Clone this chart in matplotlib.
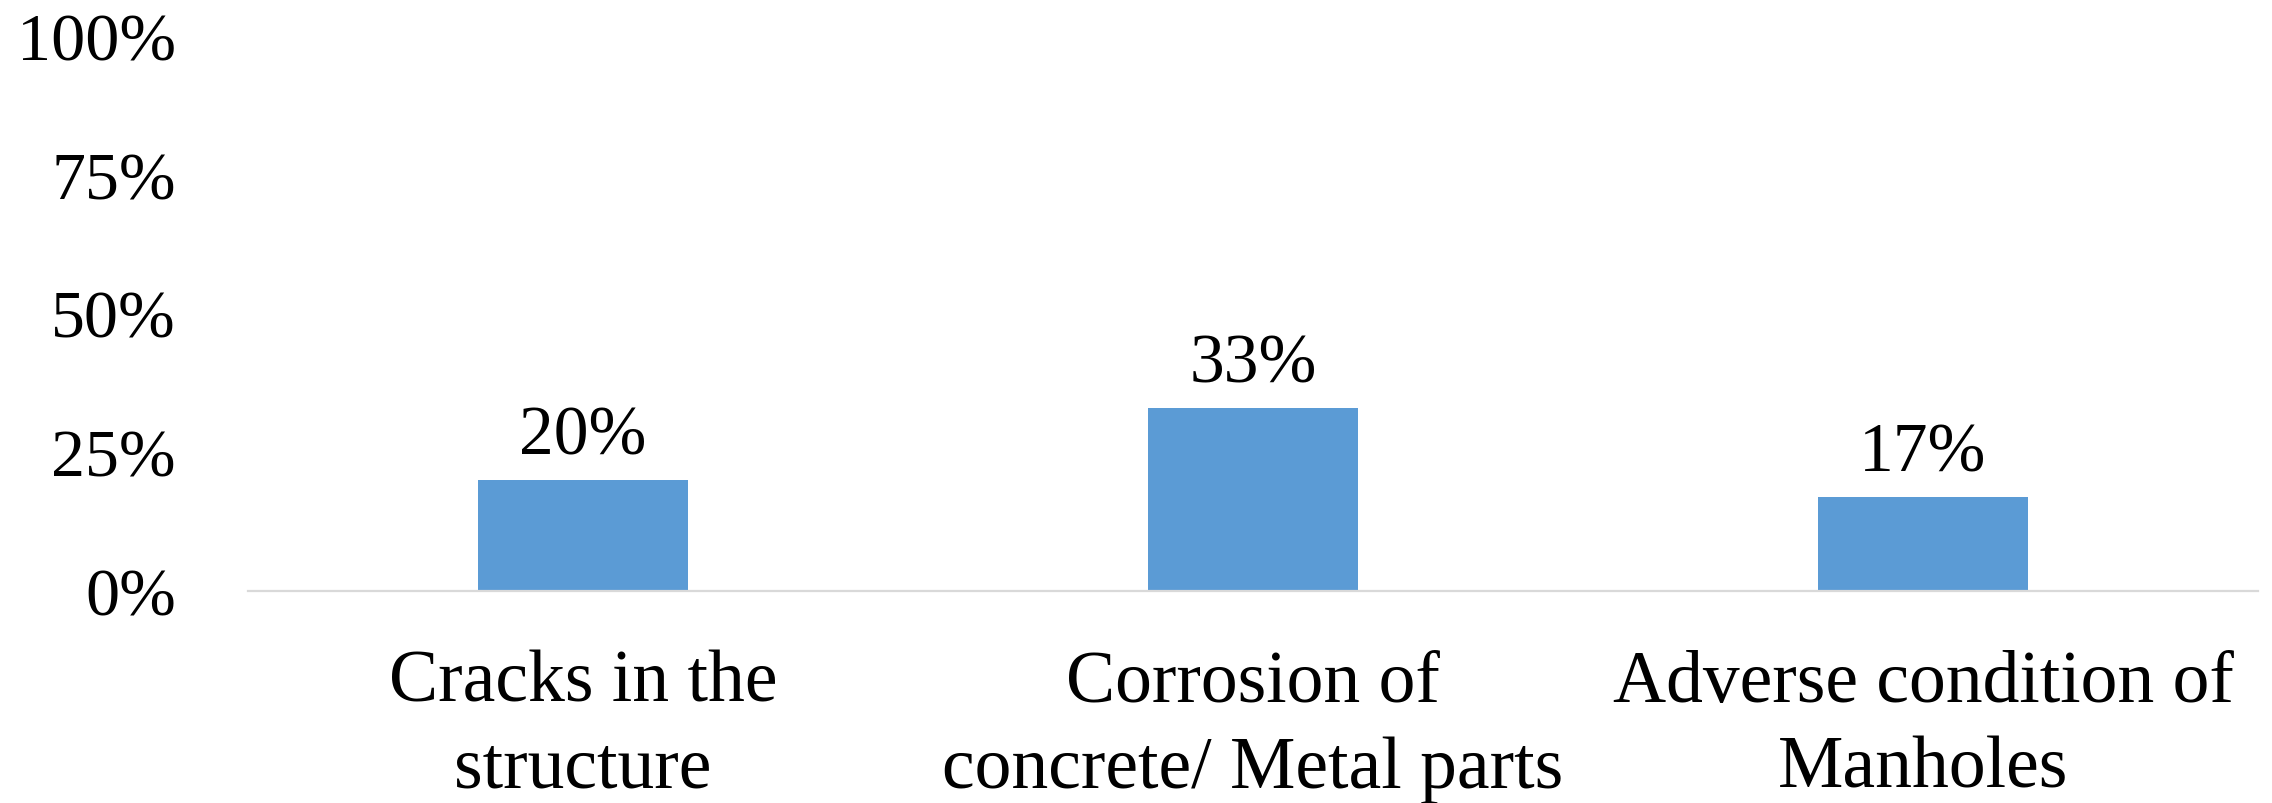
import matplotlib
matplotlib.use("Agg")
import matplotlib.pyplot as plt
from matplotlib.ticker import FuncFormatter

categories = ["Cracks in the\nstructure",
              "Corrosion of\nconcrete/ Metal parts",
              "Adverse condition of\nManholes"]
values = [0.20, 0.33, 0.17]
y_ticks = [0, 0.25, 0.50, 0.75, 1.00]

plt.rcParams["font.family"] = ["Liberation Serif", "DejaVu Serif"]

fig = plt.figure(figsize=(22.72, 8.04), dpi=100)
ax = fig.add_axes([0.1092, 0.2637, 0.8846, 0.6903])

x = range(len(categories))
bars = ax.bar(x, values, width=0.313, color="#5B9BD5", zorder=2)

ax.set_xlim(-0.5, len(categories) - 0.5)
ax.set_ylim(0, 1.0)
ax.set_yticks(y_ticks)
ax.yaxis.set_major_formatter(FuncFormatter(lambda v, _: f"{v:.0%}"))
ax.set_xticks(list(x))
ax.set_xticklabels(categories, fontsize=53, linespacing=1.36)

ax.tick_params(axis="y", length=0, labelsize=49, pad=52)
ax.tick_params(axis="x", length=0, pad=42)

for side in ("left", "right", "top"):
    ax.spines[side].set_visible(False)
ax.spines["bottom"].set_color("#d9d9d9")
ax.spines["bottom"].set_linewidth(1.6)

for rect, v in zip(bars, values):
    ax.annotate(f"{v:.0%}",
                xy=(rect.get_x() + rect.get_width() / 2, v),
                xytext=(0, 19), textcoords="offset points",
                ha="center", va="baseline", fontsize=50)

fig.savefig("out.png", dpi=100, facecolor="white")
